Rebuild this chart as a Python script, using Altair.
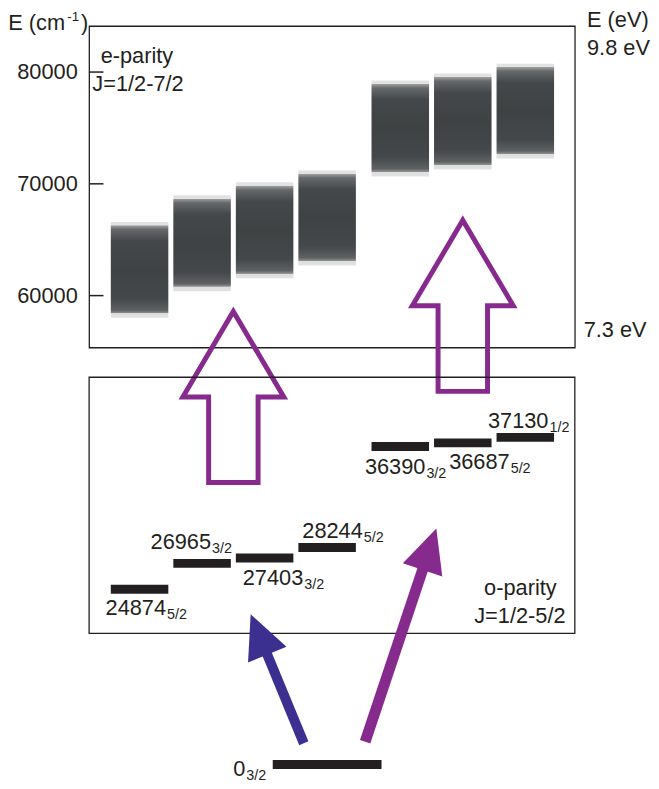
import math
import altair as alt
import pandas as pd

# ---------------- data ----------------
odd_energy = [24874, 26965, 27403, 28244, 36390, 36687, 37130]      # o-parity levels (cm-1)
odd_J = ["5/2", "3/2", "3/2", "5/2", "3/2", "5/2", "1/2"]
ground_energy = [0]
ground_J = ["3/2"]
band_bottom = [58000, 60380, 61530, 62680, 70620, 71240, 72210]     # e-parity bands (cm-1)
band_top = [66560, 68940, 70090, 71150, 79180, 79800, 80680]
e_axis_ticks = [60000, 70000, 80000]
ev_marks = ["9.8 eV", "7.3 eV"]
panel_titles = ["e-parity", "J=1/2-7/2", "o-parity", "J=1/2-5/2"]

# ---------------- layout / style ----------------
FONT = "Liberation Sans"
INK = "#231f20"
BLUE = "#3b2f8f"
PURPLE = "#862a8e"
W, H = 491, 325
X_DOM = [-0.807, 6.962]
UP_DOM = [55349, 84033]     # e-parity panel scale (cm-1)
LO_DOM = [44374, 70307]     # o-parity panel scale (cm-1)
GR_DOM = [33633, 59566]     # ground-state strip (broken axis)
KX = W / (X_DOM[1] - X_DOM[0])


def ky(dom):
    return H / (dom[1] - dom[0])


def to_px(s, e, dom):
    return (s - X_DOM[0]) * KX, (dom[1] - e) * ky(dom)


def from_px(x, y, dom):
    return X_DOM[0] + x / KX, dom[1] - y / ky(dom)


slots = [i + (0.17 if e > 32000 else 0.0) for i, e in enumerate(odd_energy)]
HALF = 0.46
GROUND_SLOT, GROUND_HALF = 3.0, 0.87
FS, FS_SUB = 22, 14.5
DIGIT = 0.556

UP_AXIS = alt.Axis(values=e_axis_ticks, format="d", title=None, domain=False, grid=False,
                   tickSize=14, tickWidth=1.5, tickColor=INK, offset=-14, labelPadding=12,
                   labelFontSize=FS, labelFont=FONT, labelColor=INK)


def X(f):
    return alt.X(f"{f}:Q", scale=alt.Scale(domain=X_DOM, nice=False, zero=False), axis=None)


def X2(f):
    return alt.X2(f"{f}:Q")


def Yu(f):
    return alt.Y(f"{f}:Q", scale=alt.Scale(domain=UP_DOM, nice=False, zero=False), axis=UP_AXIS)


def Yl(f):
    return alt.Y(f"{f}:Q", scale=alt.Scale(domain=LO_DOM, nice=False, zero=False), axis=None)


def Yg(f):
    return alt.Y(f"{f}:Q", scale=alt.Scale(domain=GR_DOM, nice=False, zero=False), axis=None)


def texts(df, yfun):
    return alt.Chart(df).mark_text(align="left", baseline="alphabetic", font=FONT, color=INK).encode(
        x=X("x"), y=yfun("y"), text="t:N", size=alt.Size("fs:Q", scale=None))


# ---------- upper (e-parity) panel ----------
bands = pd.DataFrame({"x": [s - HALF for s in slots], "x2": [s + HALF for s in slots],
                      "y": band_bottom, "y2": band_top})
grad = alt.Gradient(gradient="linear", x1=0, x2=0, y1=0, y2=1, stops=[
    alt.GradientStop(offset=0.0, color="#e2e2e2"),
    alt.GradientStop(offset=0.035, color="#e2e2e2"),
    alt.GradientStop(offset=0.04, color="#9a9c9d"),
    alt.GradientStop(offset=0.08, color="#66696a"),
    alt.GradientStop(offset=0.2, color="#44484a"),
    alt.GradientStop(offset=0.5, color="#3e4243"),
    alt.GradientStop(offset=0.8, color="#44484a"),
    alt.GradientStop(offset=0.92, color="#5e6162"),
    alt.GradientStop(offset=0.95, color="#8c8e8f"),
    alt.GradientStop(offset=0.955, color="#dedede"),
    alt.GradientStop(offset=1.0, color="#e2e2e2"),
])
band_layer = alt.Chart(bands).mark_rect(fill=grad).encode(
    y=Yu("y"), y2=alt.Y2("y2:Q"), x=X("x"), x2=X2("x2"))

HOLLOW = "M0,-1L0.59,0L0.289,0L0.289,1L-0.289,1L-0.289,0L-0.59,0Z"
hollow = pd.DataFrame({"x": [1.5, 5.17], "y": [50936, 59074]})
hollow_layer = alt.Chart(hollow).mark_point(
    shape=HOLLOW, filled=False, size=173 ** 2, strokeWidth=5, color=PURPLE, opacity=1,
    strokeJoin="miter").encode(x=X("x"), y=Yu("y"))

up_text = pd.DataFrame([
    {"t": "E (cm", "x": -2.100, "y": 83680, "fs": FS},
    {"t": "-1", "x": -1.155, "y": 84475, "fs": 13.5},
    {"t": ")", "x": -0.938, "y": 83680, "fs": FS},
    {"t": panel_titles[0], "x": -0.622, "y": 80768, "fs": FS},
    {"t": panel_titles[1], "x": -0.755, "y": 78270, "fs": FS},
    {"t": "E (eV)", "x": 7.157, "y": 83972, "fs": FS},
    {"t": ev_marks[0], "x": 7.157, "y": 81412, "fs": FS},
    {"t": ev_marks[1], "x": 7.104, "y": 56320, "fs": FS},
])
upper = alt.layer(band_layer, hollow_layer, texts(up_text, Yu))

# ---------- lower (o-parity) panel ----------
box = pd.DataFrame({"x": [X_DOM[0]], "x2": [X_DOM[1]], "y": [21310], "y2": [41978]})
box_layer = alt.Chart(box).mark_rect(fillOpacity=0, stroke=INK, strokeWidth=1.3).encode(
    x=X("x"), x2=X2("x2"), y=Yl("y"), y2=alt.Y2("y2:Q"))

levels = pd.DataFrame({"x": [s - HALF for s in slots], "x2": [s + HALF for s in slots],
                       "y": odd_energy})
level_layer = alt.Chart(levels).mark_rule(strokeWidth=9, color=INK).encode(
    x=X("x"), x2=X2("x2"), y=Yl("y"))

LABEL_OFF = [(-5.3, 26), (-23, -15), (7, 27), (4, -10), (-6.7, 27.5), (15.3, 26), (-8.7, -9.5)]
rows = []
k_lo = ky(LO_DOM)
for s, e, j, (dx, dy) in zip(slots, odd_energy, odd_J, LABEL_OFF):
    lx = s - HALF + dx / KX
    ly = e - dy / k_lo
    rows.append({"t": str(e), "x": lx, "y": ly, "fs": FS})
    rows.append({"t": j, "x": lx + (len(str(e)) * DIGIT * FS + 1) / KX, "y": ly - 4.3 / k_lo, "fs": FS_SUB})
rows.append({"t": panel_titles[2], "x": 5.511, "y": 24446, "fs": FS})
rows.append({"t": panel_titles[3], "x": 5.353, "y": 22188, "fs": FS})
lower = alt.layer(box_layer, level_layer, texts(pd.DataFrame(rows), Yl))

# ---------- ground state and excitation arrows ----------
gbar = pd.DataFrame({"x": [GROUND_SLOT - GROUND_HALF], "x2": [GROUND_SLOT + GROUND_HALF],
                     "y": ground_energy})
gbar_layer = alt.Chart(gbar).mark_rule(strokeWidth=9, color=INK).encode(
    x=X("x"), x2=X2("x2"), y=Yg("y"))
k_gr = ky(GR_DOM)
glx = GROUND_SLOT - GROUND_HALF - 40 / KX
gly = ground_energy[0] - 11.5 / k_gr
g_text = pd.DataFrame([
    {"t": str(ground_energy[0]), "x": glx, "y": gly, "fs": FS},
    {"t": ground_J[0], "x": glx + (DIGIT * FS + 1) / KX, "y": gly - 4.3 / k_gr, "fs": FS_SUB},
])

# excitation arrows: tail/tip in (slot, ground-strip) coordinates
arrows = [
    {"s0": 2.627, "e0": 1715, "s1": 1.777, "e1": 12112, "color": BLUE, "w": 10},
    {"s0": 3.608, "e0": 1835, "s1": 4.747, "e1": 19031, "color": PURPLE, "w": 11},
]
HEAD_L, HEAD_W = 44, 42
shafts, heads = [], []
for a in arrows:
    x0, y0 = to_px(a["s0"], a["e0"], GR_DOM)
    x1, y1 = to_px(a["s1"], a["e1"], GR_DOM)
    L = math.hypot(x1 - x0, y1 - y0)
    ux, uy = (x1 - x0) / L, (y1 - y0) / L
    sx, sy = from_px(x1 - ux * (HEAD_L - 6), y1 - uy * (HEAD_L - 6), GR_DOM)
    shafts.append({"x": a["s0"], "y": a["e0"], "x2": sx, "y2": sy, "c": a["color"], "w": a["w"]})
    hx, hy = from_px(x1 - ux * HEAD_L / 2, y1 - uy * HEAD_L / 2, GR_DOM)
    ang = math.degrees(math.atan2(ux, -uy)) % 360
    heads.append({"x": hx, "y": hy, "c": a["color"], "a": ang})

shaft_layer = alt.Chart(pd.DataFrame(shafts)).mark_rule(strokeCap="butt").encode(
    x=X("x"), y=Yg("y"), x2=X2("x2"), y2=alt.Y2("y2:Q"),
    color=alt.Color("c:N", scale=None), strokeWidth=alt.StrokeWidth("w:Q", scale=None))
hw = HEAD_W / HEAD_L
head_layer = alt.Chart(pd.DataFrame(heads)).mark_point(
    shape=f"M0,-1L{hw:.3f},1L{-hw:.3f},1Z", filled=True, size=HEAD_L ** 2, opacity=1).encode(
    x=X("x"), y=Yg("y"), color=alt.Color("c:N", scale=None), angle=alt.Angle("a:Q", scale=None))

ground = alt.layer(gbar_layer, texts(g_text, Yg), shaft_layer, head_layer)

chart = alt.layer(upper, lower, ground).resolve_scale(y="independent").properties(
    width=W, height=H,
    autosize=alt.AutoSizeParams(type="none"),
    padding={"left": 82, "top": 14, "right": 77, "bottom": 441},
    background="white",
).configure_view(stroke=INK, strokeWidth=1.3)

chart.save("out.html", embed_options={"renderer": "svg", "actions": False})
